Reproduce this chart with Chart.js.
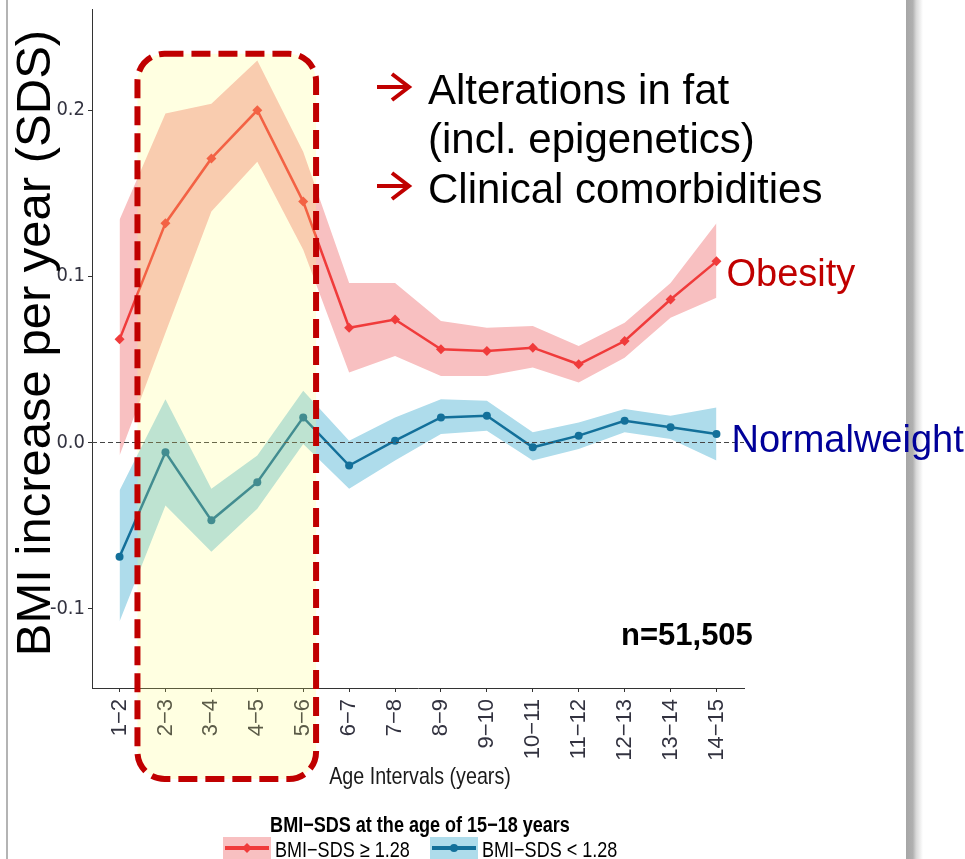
<!DOCTYPE html>
<html>
<head>
<meta charset="utf-8">
<script src="https://cdn.jsdelivr.net/npm/chart.js@4.4.1/dist/chart.umd.min.js"></script>
<style>
  html, body { margin: 0; padding: 0; background: #ffffff; }
  canvas { display: block; }
</style>
</head>
<body>
<canvas id="chart" width="965" height="859"></canvas>
<script>
// Age intervals on the x axis
const ageIntervals = ['1\u22122', '2\u22123', '3\u22124', '4\u22125', '5\u22126', '6\u22127', '7\u22128',
  '8\u22129', '9\u221210', '10\u221211', '11\u221212', '12\u221213', '13\u221214', '14\u221215'];

// Yearly BMI-SDS increase, BMI-SDS >= 1.28 at 15-18 years (mean and confidence band)
const obesityMean  = [0.062, 0.132, 0.171, 0.200, 0.145, 0.069, 0.074, 0.056, 0.055, 0.057, 0.047, 0.061, 0.086, 0.109];
const obesityUpper = [0.134, 0.198, 0.204, 0.230, 0.175, 0.096, 0.096, 0.073, 0.069, 0.070, 0.058, 0.072, 0.096, 0.132];
const obesityLower = [-0.008, 0.066, 0.139, 0.169, 0.116, 0.042, 0.052, 0.040, 0.040, 0.045, 0.036, 0.051, 0.075, 0.087];

// Yearly BMI-SDS increase, BMI-SDS < 1.28 at 15-18 years
const normalMean  = [-0.069, -0.006, -0.047, -0.024, 0.015, -0.014, 0.001, 0.015, 0.016, -0.003, 0.004, 0.013, 0.009, 0.005];
const normalUpper = [-0.029, 0.026, -0.028, -0.008, 0.031, 0.001, 0.015, 0.026, 0.025, 0.006, 0.012, 0.020, 0.016, 0.021];
const normalLower = [-0.108, -0.038, -0.066, -0.040, -0.001, -0.028, -0.011, 0.005, 0.007, -0.011, -0.004, 0.006, 0.002, -0.011];

// Y axis tick values
const yTicks = [-0.1, 0.0, 0.1, 0.2];

// Texts
const yTitle = 'BMI increase per year (SDS)';
const xTitle = 'Age Intervals (years)';
const legendTitle = 'BMI\u2212SDS at the age of 15\u221218 years';
const legendLabels = ['BMI\u2212SDS \u2265 1.28', 'BMI\u2212SDS < 1.28'];
const notes = ['Alterations in fat', '(incl. epigenetics)', 'Clinical comorbidities'];
const seriesNames = ['Obesity', 'Normalweight'];
const sampleNote = 'n=51,505';

const RED = '#F03B3B';
const RED_BAND = '#F8C0C1';
const BLUE = '#13709A';
const BLUE_BAND = '#AEDCEB';
const DARK_RED = '#C00000';
const NAVY = '#000099';
const SANS = '"Liberation Sans", Arial, sans-serif';
const CONDENSED = '"DejaVu Sans Condensed", "Liberation Sans", sans-serif';

const pts = arr => arr.map((v, i) => ({ x: i + 1, y: v }));

function band(upper, lower, color) {
  return [
    { data: pts(upper), borderWidth: 0, pointRadius: 0, backgroundColor: color, fill: '+1', order: 5 },
    { data: pts(lower), borderWidth: 0, pointRadius: 0, backgroundColor: color, fill: false, order: 5 }
  ];
}

function roundRect(ctx, x, y, w, h, r) {
  ctx.beginPath();
  ctx.moveTo(x + r, y);
  ctx.lineTo(x + w - r, y);
  ctx.arcTo(x + w, y, x + w, y + r, r);
  ctx.lineTo(x + w, y + h - r);
  ctx.arcTo(x + w, y + h, x + w - r, y + h, r);
  ctx.lineTo(x + r, y + h);
  ctx.arcTo(x, y + h, x, y + h - r, r);
  ctx.lineTo(x, y + r);
  ctx.arcTo(x, y, x + r, y, r);
  ctx.closePath();
}

// text squeezed horizontally, like the narrow lettering of the plot panel
function narrowText(ctx, text, x, y, font, align) {
  ctx.save();
  ctx.translate(x, y);
  ctx.scale(0.82, 1);
  ctx.font = font;
  ctx.textAlign = align;
  ctx.textBaseline = 'alphabetic';
  ctx.fillText(text, 0, 0);
  ctx.restore();
}

function arrow(ctx, x, y) {
  ctx.save();
  ctx.strokeStyle = DARK_RED;
  ctx.lineWidth = 4;
  ctx.lineCap = 'butt';
  ctx.beginPath();
  ctx.moveTo(x, y);
  ctx.lineTo(x + 32, y);
  ctx.stroke();
  ctx.beginPath();
  ctx.moveTo(x + 15, y - 13);
  ctx.lineTo(x + 32, y);
  ctx.lineTo(x + 15, y + 13);
  ctx.stroke();
  ctx.restore();
}

const decorations = {
  id: 'decorations',
  afterDatasetsDraw(chart) {
    const { ctx, chartArea, scales } = chart;
    const y0 = Math.round(scales.y.getPixelForValue(0)) + 0.5;
    ctx.save();
    ctx.strokeStyle = '#444444';
    ctx.lineWidth = 1;
    ctx.setLineDash([5, 3]);
    ctx.beginPath();
    ctx.moveTo(chartArea.left, y0);
    ctx.lineTo(chartArea.right, y0);
    ctx.stroke();
    ctx.restore();
  },
  afterDraw(chart) {
    const { ctx, chartArea, scales } = chart;
    const xs = scales.x, ys = scales.y;
    ctx.save();

    // slide frame
    ctx.fillStyle = '#B4B4B4';
    ctx.fillRect(6, 0, 2, chart.height);
    const g = ctx.createLinearGradient(906, 0, 923, 0);
    g.addColorStop(0, '#A6A6A6');
    g.addColorStop(0.4, '#B0B0B0');
    g.addColorStop(0.6, '#D8D8D8');
    g.addColorStop(1, '#FFFFFF');
    ctx.fillStyle = g;
    ctx.fillRect(906, 0, 17, chart.height);

    // highlighted early-childhood window
    const bx0 = xs.getPixelForValue(1.39);
    const bx1 = xs.getPixelForValue(5.28);
    const by0 = ys.getPixelForValue(0.234);
    const by1 = chartArea.bottom + 91;
    roundRect(ctx, bx0, by0, bx1 - bx0, by1 - by0, 27);
    ctx.fillStyle = 'rgba(255,255,105,0.2)';
    ctx.fill();
    ctx.setLineDash([19, 8]);
    ctx.lineWidth = 6;
    ctx.strokeStyle = DARK_RED;
    ctx.stroke();
    ctx.setLineDash([]);

    // y axis title
    ctx.save();
    ctx.translate(50, 343);
    ctx.rotate(-Math.PI / 2);
    ctx.font = '49px ' + SANS;
    ctx.fillStyle = '#000000';
    ctx.textAlign = 'center';
    ctx.textBaseline = 'alphabetic';
    ctx.fillText(yTitle, 0, 0);
    ctx.restore();

    // notes
    arrow(ctx, 377, 87);
    arrow(ctx, 377, 186);
    ctx.textAlign = 'left';
    ctx.textBaseline = 'alphabetic';
    ctx.font = '42px ' + SANS;
    ctx.fillStyle = '#000000';
    ctx.fillText(notes[0], 428, 104);
    ctx.fillText(notes[1], 428, 153);
    ctx.fillText(notes[2], 428, 203);

    // series labels at the line ends
    const xEnd = xs.getPixelForValue(ageIntervals.length);
    ctx.font = '38px ' + SANS;
    ctx.fillStyle = DARK_RED;
    ctx.fillText(seriesNames[0], xEnd + 10, ys.getPixelForValue(obesityMean[obesityMean.length - 1]) + 25);
    ctx.fillStyle = NAVY;
    ctx.fillText(seriesNames[1], xEnd + 15, ys.getPixelForValue(normalMean[normalMean.length - 1]) + 18);

    ctx.font = 'bold 31px ' + SANS;
    ctx.fillStyle = '#000000';
    ctx.fillText(sampleNote, 621, 645);

    // x axis title
    ctx.fillStyle = '#1a1a1a';
    narrowText(ctx, xTitle, 420, 784, '24px ' + SANS, 'center');

    // legend
    ctx.fillStyle = '#000000';
    narrowText(ctx, legendTitle, 420, 832, 'bold 22px ' + SANS, 'center');
    const items = [
      { x: 223, fill: RED_BAND, line: RED, shape: 'diamond', label: legendLabels[0] },
      { x: 430, fill: BLUE_BAND, line: BLUE, shape: 'circle', label: legendLabels[1] }
    ];
    items.forEach(it => {
      ctx.fillStyle = it.fill;
      ctx.fillRect(it.x, 837, 48, 22);
      ctx.strokeStyle = it.line;
      ctx.lineWidth = 4;
      ctx.beginPath();
      ctx.moveTo(it.x + 2, 848);
      ctx.lineTo(it.x + 46, 848);
      ctx.stroke();
      ctx.fillStyle = it.line;
      ctx.beginPath();
      const cx = it.x + 24;
      if (it.shape === 'diamond') {
        ctx.moveTo(cx, 843); ctx.lineTo(cx + 5, 848); ctx.lineTo(cx, 853); ctx.lineTo(cx - 5, 848);
        ctx.closePath();
      } else {
        ctx.arc(cx, 848, 4, 0, Math.PI * 2);
      }
      ctx.fill();
      ctx.fillStyle = '#000000';
      narrowText(ctx, it.label, it.x + 52, 857, '22px ' + SANS, 'left');
    });

    ctx.restore();
  }
};

new Chart(document.getElementById('chart'), {
  type: 'line',
  data: {
    datasets: [
      ...band(obesityUpper, obesityLower, RED_BAND),
      ...band(normalUpper, normalLower, BLUE_BAND),
      { data: pts(obesityMean), borderColor: RED, backgroundColor: RED, borderWidth: 2.5,
        pointStyle: 'rectRot', pointRadius: 5, pointBorderWidth: 0, fill: false, order: 1 },
      { data: pts(normalMean), borderColor: BLUE, backgroundColor: BLUE, borderWidth: 2.5,
        pointStyle: 'circle', pointRadius: 4, pointBorderWidth: 0, fill: false, order: 1 }
    ]
  },
  options: {
    responsive: false,
    animation: false,
    devicePixelRatio: 1,
    layout: { padding: { top: 9, right: 221, left: 0, bottom: 0 } },
    plugins: { legend: { display: false }, tooltip: { enabled: false } },
    elements: { line: { tension: 0 } },
    scales: {
      x: {
        type: 'linear',
        min: 0.4,
        max: 14.6,
        afterBuildTicks(s) { s.ticks = ageIntervals.map((_, i) => ({ value: i + 1 })); },
        afterFit(s) { s.height = 171; s.paddingLeft = 0; s.paddingRight = 0; },
        grid: { drawOnChartArea: false, tickLength: 4, color: '#333333' },
        border: { color: '#333333', width: 1 },
        ticks: {
          autoSkip: false, minRotation: 90, maxRotation: 90, padding: 7,
          color: '#333340', font: { family: SANS, size: 22 },
          callback: v => ageIntervals[Math.round(v) - 1]
        }
      },
      y: {
        min: -0.148,
        max: 0.261,
        afterBuildTicks(s) { s.ticks = yTicks.map(v => ({ value: v })); },
        afterFit(s) { s.width = 92; s.paddingTop = 0; s.paddingBottom = 0; },
        grid: { drawOnChartArea: false, tickLength: 4, color: '#333333' },
        border: { color: '#333333', width: 1 },
        ticks: {
          padding: 3, color: '#333340', font: { family: CONDENSED, size: 20 },
          callback: v => v.toFixed(1)
        }
      }
    }
  },
  plugins: [decorations]
});
</script>
</body>
</html>
